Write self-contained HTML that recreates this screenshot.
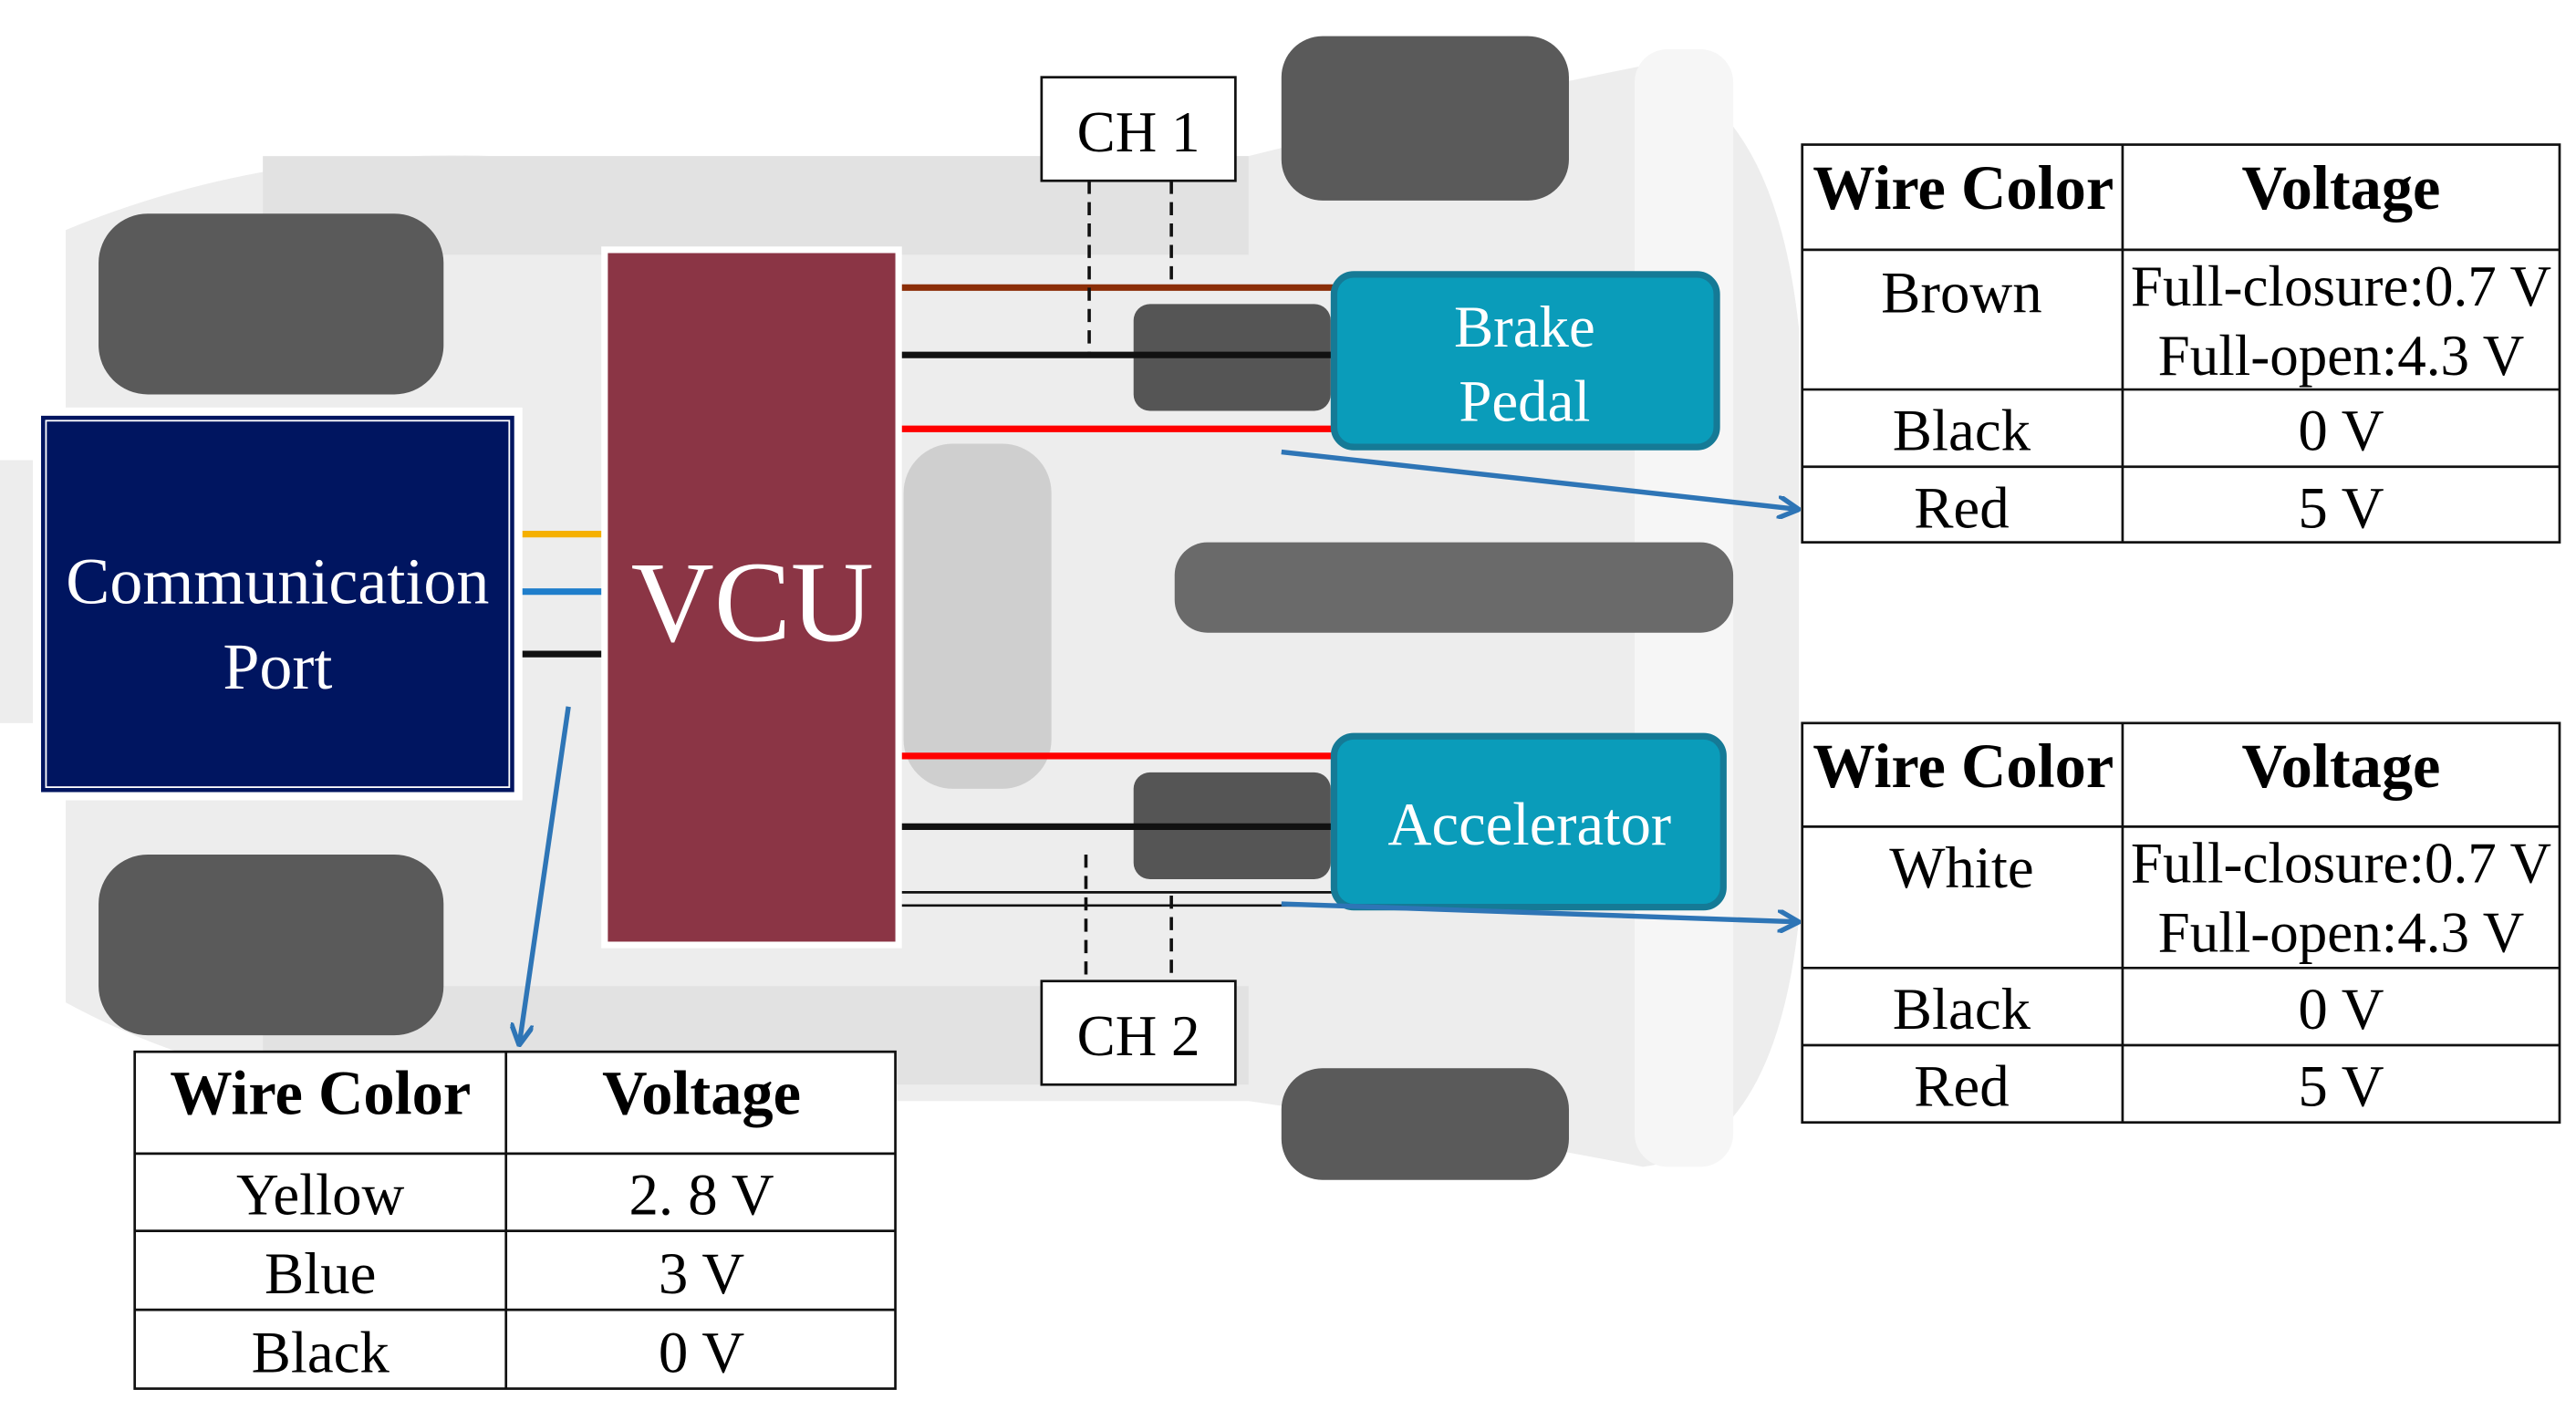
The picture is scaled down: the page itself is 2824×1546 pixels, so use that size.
<!DOCTYPE html>
<html><head><meta charset="utf-8"><style>
html,body{margin:0;padding:0;background:#fff;}
svg{display:block;}
text{font-family:"Liberation Serif",serif;}
</style></head><body>
<svg width="2824" height="1546" viewBox="0 0 1568 858" preserveAspectRatio="none" xmlns="http://www.w3.org/2000/svg">
<defs><marker id="ah" markerWidth="14" markerHeight="14" refX="13" refY="7" orient="auto" markerUnits="userSpaceOnUse"><path d="M0,0 L13,7 L0,14" fill="none" stroke="#2e75b6" stroke-width="3"/></marker></defs>
<path d="M40,140 Q160,90 300,95 L760,95 Q900,60 1000,40 Q1080,60 1095,200 L1095,560 Q1080,700 1000,710 Q900,690 760,670 L300,670 Q150,670 40,610 Z" fill="#ededed"/>
<rect x="160" y="95" width="600" height="60" fill="#e2e2e2"/>
<rect x="160" y="600" width="600" height="60" fill="#e2e2e2"/>
<rect x="60" y="130" width="210" height="110" rx="30" fill="#5a5a5a"/>
<rect x="60" y="520" width="210" height="110" rx="30" fill="#5a5a5a"/>
<rect x="780" y="22" width="175" height="100" rx="25" fill="#5a5a5a"/>
<rect x="780" y="650" width="175" height="68" rx="25" fill="#5a5a5a"/>
<rect x="995" y="30" width="60" height="680" rx="20" fill="#f6f6f6"/>
<rect x="715" y="330" width="340" height="55" rx="20" fill="#6a6a6a"/>
<rect x="550" y="270" width="90" height="210" rx="30" fill="#cfcfcf"/>
<rect x="690" y="185" width="120" height="65" rx="10" fill="#555"/>
<rect x="690" y="470" width="120" height="65" rx="10" fill="#555"/>
<rect x="0" y="280" width="30" height="160" fill="#ededed"/>
<g stroke-width="4">
<line x1="316" y1="325" x2="368" y2="325" stroke="#f5b000"/>
<line x1="316" y1="360" x2="368" y2="360" stroke="#1f7ecb"/>
<line x1="316" y1="398" x2="368" y2="398" stroke="#111"/>
<line x1="547" y1="175" x2="812" y2="175" stroke="#8b2e08"/>
<line x1="547" y1="216" x2="812" y2="216" stroke="#111"/>
<line x1="547" y1="261" x2="812" y2="261" stroke="#f00"/>
<line x1="547" y1="460" x2="812" y2="460" stroke="#f00"/>
<line x1="547" y1="503" x2="812" y2="503" stroke="#111"/>
</g>
<line x1="547" y1="543" x2="812" y2="543" stroke="#111" stroke-width="1.5"/>
<line x1="547" y1="551" x2="812" y2="551" stroke="#111" stroke-width="1.5"/>
<g stroke="#111" stroke-width="2" stroke-dasharray="8,5">
<line x1="663" y1="110" x2="663" y2="215"/>
<line x1="713" y1="110" x2="713" y2="175"/>
<line x1="661" y1="520" x2="661" y2="597"/>
<line x1="713" y1="545" x2="713" y2="597"/>
</g>
<rect x="634" y="47" width="118" height="63" fill="#fff" stroke="#111" stroke-width="1.5"/>
<text x="693" y="92" font-size="35" text-anchor="middle">CH 1</text>
<rect x="634" y="597" width="118" height="63" fill="#fff" stroke="#111" stroke-width="1.5"/>
<text x="693" y="642" font-size="35" text-anchor="middle">CH 2</text>
<rect x="20" y="248" width="298" height="239" fill="#fff"/>
<rect x="25" y="253" width="288" height="229" fill="#001560"/>
<rect x="28" y="256" width="282" height="223" fill="none" stroke="#fff" stroke-width="1"/>
<text x="169" y="367" font-size="40" fill="#fff" text-anchor="middle">Communication</text>
<text x="169" y="419" font-size="40" fill="#fff" text-anchor="middle">Port</text>
<rect x="366" y="150" width="183" height="427" fill="#fff"/>
<rect x="370" y="154" width="175" height="419" fill="#8b3545"/>
<text x="458" y="390" font-size="70" fill="#fff" text-anchor="middle">VCU</text>
<rect x="812" y="167" width="233" height="105" rx="12" fill="#0a9cba" stroke="#157a96" stroke-width="4"/>
<text x="928" y="211" font-size="36" fill="#fff" text-anchor="middle">Brake</text>
<text x="928" y="256" font-size="36" fill="#fff" text-anchor="middle">Pedal</text>
<rect x="812" y="448" width="237" height="104" rx="12" fill="#0a9cba" stroke="#157a96" stroke-width="4"/>
<text x="931" y="514" font-size="37" fill="#fff" text-anchor="middle">Accelerator</text>
<g stroke="#2e75b6" stroke-width="3" fill="none">
<line x1="780" y1="275" x2="1095" y2="310" marker-end="url(#ah)"/>
<line x1="780" y1="550" x2="1095" y2="561" marker-end="url(#ah)"/>
<line x1="346" y1="430" x2="316" y2="636" marker-end="url(#ah)"/>
</g>
<g stroke="#111" stroke-width="1.5" fill="none">
<rect x="1097" y="88" width="461" height="242" fill="#fff"/>
<line x1="1292" y1="88" x2="1292" y2="330"/>
<line x1="1097" y1="152" x2="1558" y2="152"/>
<line x1="1097" y1="237" x2="1558" y2="237"/>
<line x1="1097" y1="284" x2="1558" y2="284"/>
<rect x="1097" y="440" width="461" height="243" fill="#fff"/>
<line x1="1292" y1="440" x2="1292" y2="683"/>
<line x1="1097" y1="503" x2="1558" y2="503"/>
<line x1="1097" y1="589" x2="1558" y2="589"/>
<line x1="1097" y1="636" x2="1558" y2="636"/>
<rect x="82" y="640" width="463" height="205" fill="#fff"/>
<line x1="308" y1="640" x2="308" y2="845"/>
<line x1="82" y1="702" x2="545" y2="702"/>
<line x1="82" y1="749" x2="545" y2="749"/>
<line x1="82" y1="797" x2="545" y2="797"/>
</g>
<g font-size="36" text-anchor="middle">
<text x="1195" y="127" font-weight="bold" font-size="38">Wire Color</text>
<text x="1425" y="127" font-weight="bold" font-size="38">Voltage</text>
<text x="1194" y="190">Brown</text>
<text x="1425" y="186" font-size="35">Full-closure:0.7 V</text>
<text x="1425" y="228" font-size="35">Full-open:4.3 V</text>
<text x="1194" y="274">Black</text>
<text x="1425" y="274">0 V</text>
<text x="1194" y="321">Red</text>
<text x="1425" y="321">5 V</text>
<text x="1195" y="479" font-weight="bold" font-size="38">Wire Color</text>
<text x="1425" y="479" font-weight="bold" font-size="38">Voltage</text>
<text x="1194" y="540">White</text>
<text x="1425" y="537" font-size="35">Full-closure:0.7 V</text>
<text x="1425" y="579" font-size="35">Full-open:4.3 V</text>
<text x="1194" y="626">Black</text>
<text x="1425" y="626">0 V</text>
<text x="1194" y="673">Red</text>
<text x="1425" y="673">5 V</text>
<text x="195" y="678" font-weight="bold" font-size="38">Wire Color</text>
<text x="427" y="678" font-weight="bold" font-size="38">Voltage</text>
<text x="195" y="739">Yellow</text>
<text x="427" y="739">2. 8 V</text>
<text x="195" y="787">Blue</text>
<text x="427" y="787">3  V</text>
<text x="195" y="835">Black</text>
<text x="427" y="835">0  V</text>
</g>
</svg>
</body></html>
